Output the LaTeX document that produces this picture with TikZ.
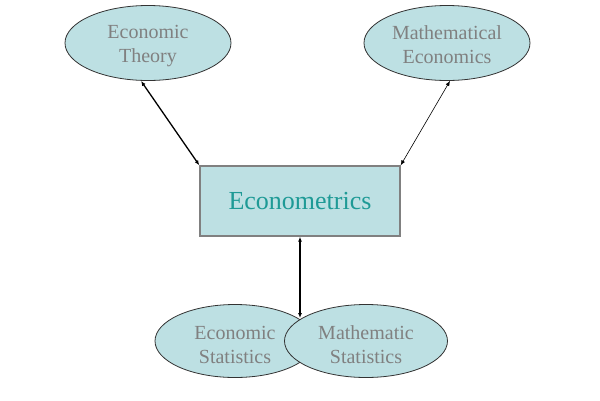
\documentclass[tikz,border=0pt]{standalone}
\usepackage{fontspec}
\setmainfont{Liberation Serif}
\usetikzlibrary{shapes.geometric,arrows.meta}
\definecolor{fillc}{HTML}{BDE0E3}
\definecolor{txtg}{HTML}{808080}
\definecolor{teal2}{HTML}{1E9A96}
\tikzset{
  ell/.style={ellipse,draw=black!80,line width=0.8pt,fill=fillc,minimum width=166pt,minimum height=75pt,inner sep=0pt},
  etxt/.style={text=txtg,font=\fontsize{20}{24}\selectfont,align=center,inner sep=0pt},
  boxn/.style={rectangle,draw=black!50,line width=1.3pt,fill=fillc,minimum width=200pt,minimum height=70pt,
    text=teal2,font=\fontsize{26}{30}\selectfont},
  conn/.style={{Latex[length=5pt,width=4pt]}-{Latex[length=5pt,width=4pt]},black}
}
\begin{document}
\begin{tikzpicture}[x=1pt,y=-1pt]
\useasboundingbox (0,0) rectangle (600,400);
\node[ell] (et) at (148,43) {};
\node[etxt] (ett) at ([yshift=-3pt]et.center) {Economic\\Theory};
\node[ell] (me) at (447,43) {};
\node[etxt] (met) at ([yshift=-2pt]me.center) {Mathematical\\Economics};
\node[boxn] (box) at (300,201) {Econometrics};
\node[ell,minimum width=160pt,minimum height=73pt] (es) at (235,341) {};
\node[etxt] (est) at ([yshift=-4pt]es.center) {Economic\\Statistics};
\node[ell,minimum width=163pt,minimum height=73pt] (ms) at (366,341) {};
\node[etxt] (mst) at ([yshift=-4pt]ms.center) {Mathematic\\Statistics};
\coordinate (meet) at (300,318);
\draw[conn,line width=1.3pt] ([xshift=-7pt]et.south) -- (box.north west);
\draw[conn,line width=0.6pt] ([xshift=3pt]me.south) -- (box.north east);
\draw[conn,line width=1.6pt] (box.south) -- (meet);
\end{tikzpicture}
\end{document}
